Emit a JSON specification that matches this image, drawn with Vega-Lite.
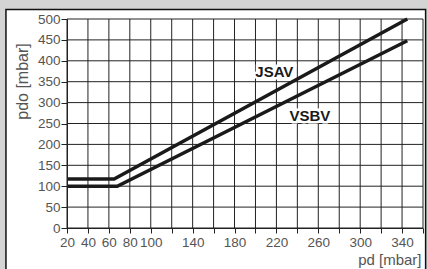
{
  "$schema": "https://vega.github.io/schema/vega-lite/v6.json",
  "autosize": {"type": "none"},
  "width": 356,
  "height": 209,
  "padding": {"left": 67, "top": 19, "right": 4, "bottom": 41},
  "background": "#d4d4d4",
  "config": {
    "view": {"stroke": null},
    "font": "Liberation Sans"
  },
  "datasets": {
    "curves": [
      {"pd": 20, "pdo": 117, "series": "JSAV"},
      {"pd": 65, "pdo": 117, "series": "JSAV"},
      {"pd": 345, "pdo": 500, "series": "JSAV"},
      {"pd": 20, "pdo": 100, "series": "VSBV"},
      {"pd": 68, "pdo": 100, "series": "VSBV"},
      {"pd": 345, "pdo": 448, "series": "VSBV"}
    ],
    "labels": [
      {"pd": 218, "pdo": 374, "label": "JSAV"},
      {"pd": 252, "pdo": 268, "label": "VSBV"}
    ],
    "gridx": [
      {"v": 20}, {"v": 40}, {"v": 60}, {"v": 80}, {"v": 100}, {"v": 120}, {"v": 140}, {"v": 160}, {"v": 180},
      {"v": 200}, {"v": 220}, {"v": 240}, {"v": 260}, {"v": 280}, {"v": 300}, {"v": 320}, {"v": 340}, {"v": 360}
    ],
    "gridy": [
      {"v": 0}, {"v": 50}, {"v": 100}, {"v": 150}, {"v": 200}, {"v": 250}, {"v": 300}, {"v": 350}, {"v": 400}, {"v": 450}, {"v": 500}
    ]
  },
  "encoding": {
    "x": {
      "type": "quantitative",
      "scale": {"domain": [20, 360], "nice": false, "zero": false},
      "axis": {
        "values": [20, 40, 60, 80, 100, 120, 140, 160, 180, 200, 220, 240, 260, 280, 300, 320, 340, 360],
        "labelExpr": "indexof([120,160,200,240,280,320,360], datum.value) >= 0 ? '' : datum.label",
        "grid": false,
        "zindex": 1,
        "domainColor": "#222",
        "tickColor": "#222",
        "tickSize": 5,
        "labelFontSize": 13.5,
        "labelColor": "#555",
        "labelPadding": 2,
        "labelFlush": false,
        "labelOverlap": false,
        "title": "pd [mbar]",
        "titleFontSize": 15,
        "titleFontWeight": "normal",
        "titleColor": "#555",
        "titleAnchor": "end",
        "titleAlign": "right",
        "titleX": 354,
        "titleY": 36,
        "titleBaseline": "alphabetic"
      }
    },
    "y": {
      "type": "quantitative",
      "scale": {"domain": [0, 500], "nice": false, "zero": false},
      "axis": {
        "values": [0, 50, 100, 150, 200, 250, 300, 350, 400, 450, 500],
        "grid": false,
        "zindex": 1,
        "domainColor": "#222",
        "tickColor": "#222",
        "tickSize": 6,
        "labelFontSize": 13.5,
        "labelColor": "#555",
        "labelPadding": 1,
        "labelFlush": false,
        "labelOverlap": false,
        "title": "pdo [mbar]",
        "titleFontSize": 16,
        "titleFontWeight": "normal",
        "titleColor": "#555",
        "titleAngle": -90,
        "titleX": -45,
        "titleY": 62,
        "titleAlign": "center",
        "titleBaseline": "middle"
      }
    }
  },
  "layer": [
    {
      "data": {"values": [{"k": 1}]},
      "mark": {"type": "rect", "fill": "white", "stroke": "#111", "strokeWidth": 1.5, "opacity": 1},
      "encoding": {
        "x": {"datum": -38.3}, "x2": {"datum": 362.5},
        "y": {"datum": 522.7}, "y2": {"datum": -140}
      }
    },
    {
      "data": {"name": "gridx"},
      "mark": {"type": "rule", "color": "#222", "strokeWidth": 1},
      "encoding": {"x": {"field": "v"}}
    },
    {
      "data": {"name": "gridy"},
      "mark": {"type": "rule", "color": "#222", "strokeWidth": 1},
      "encoding": {"y": {"field": "v"}}
    },
    {
      "data": {"name": "curves"},
      "mark": {"type": "line", "color": "#1a1a1a", "strokeWidth": 3.5, "strokeCap": "butt"},
      "encoding": {
        "x": {"field": "pd"},
        "y": {"field": "pdo"},
        "detail": {"field": "series"}
      }
    },
    {
      "data": {"name": "labels"},
      "mark": {"type": "text", "fontSize": 15, "fontWeight": "bold", "stroke": "white", "strokeWidth": 5, "color": "white"},
      "encoding": {
        "x": {"field": "pd"},
        "y": {"field": "pdo"},
        "text": {"field": "label"}
      }
    },
    {
      "data": {"name": "labels"},
      "mark": {"type": "text", "fontSize": 15, "fontWeight": "bold", "color": "#1a1a1a"},
      "encoding": {
        "x": {"field": "pd"},
        "y": {"field": "pdo"},
        "text": {"field": "label"}
      }
    }
  ]
}
